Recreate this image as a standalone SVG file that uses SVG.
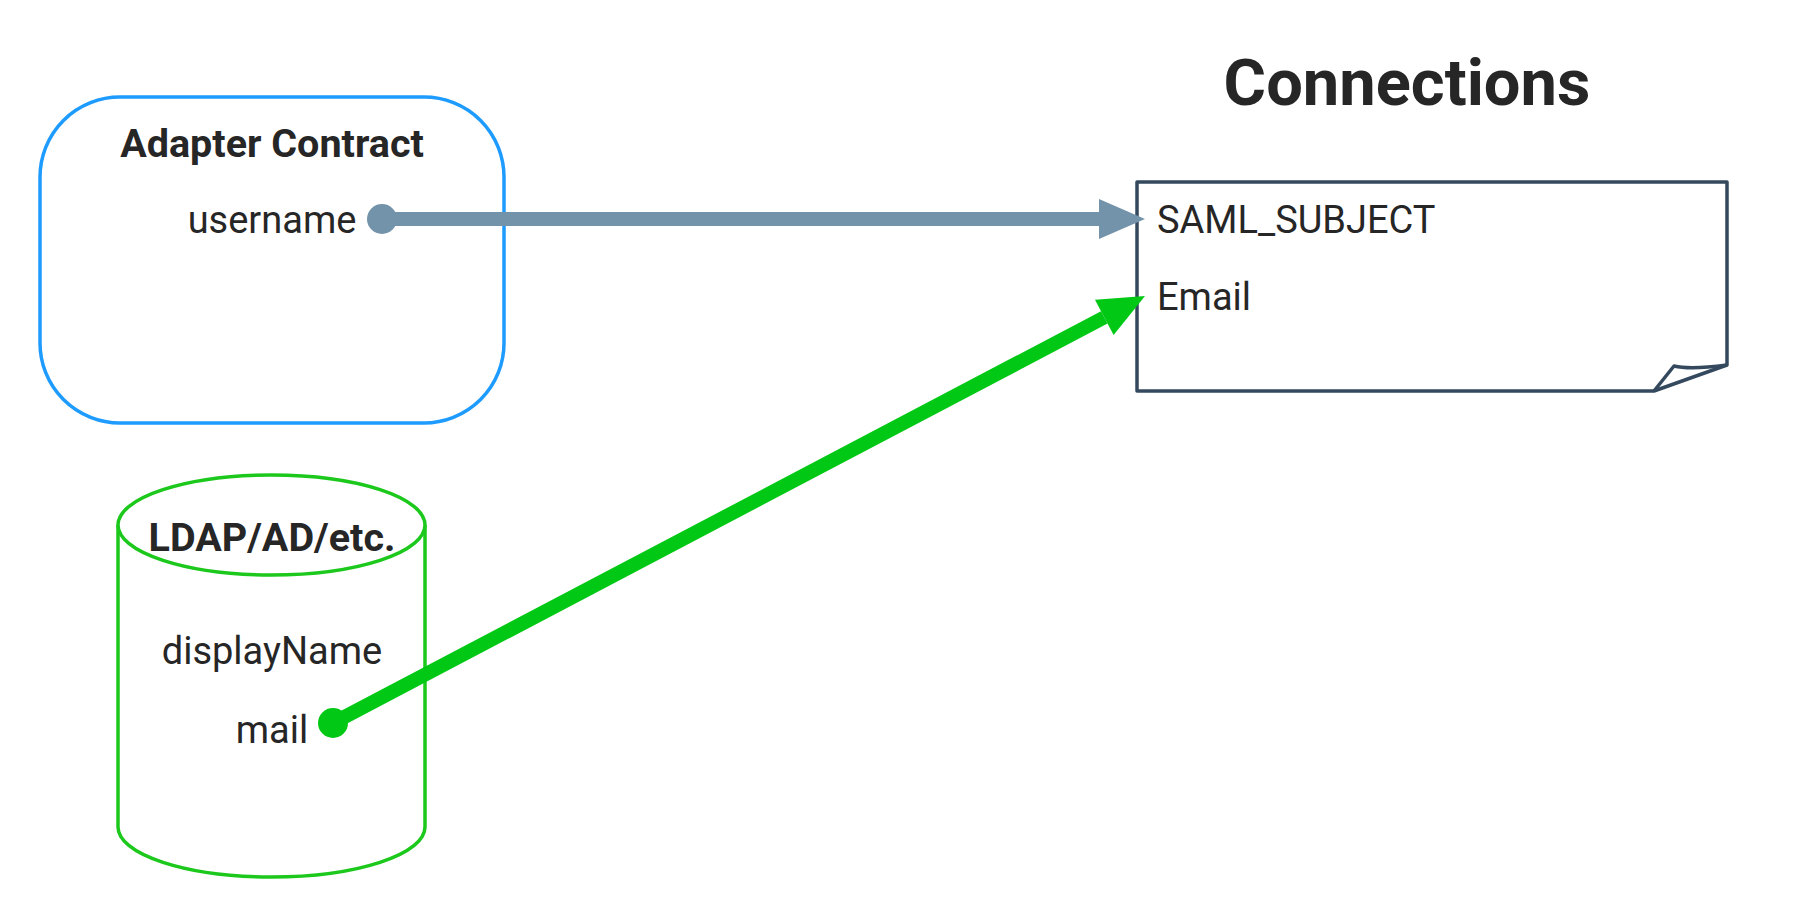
<svg xmlns="http://www.w3.org/2000/svg" width="1806" height="906" viewBox="0 0 1806 906">
<style>
.t{font-family:Roboto,"Liberation Sans",sans-serif;fill:#262626}
.r{font-size:38px}
.b{font-size:39.5px;font-weight:700}
.h{font-size:65px;font-weight:700}
</style>
<defs>
<marker id="ag" markerUnits="userSpaceOnUse" markerWidth="46" markerHeight="40" refX="0" refY="20" orient="auto" overflow="visible"><path d="M0,0 L46,20 L0,40 z" fill="#7393AA"/></marker>
<marker id="dg" markerUnits="userSpaceOnUse" markerWidth="30" markerHeight="30" refX="15" refY="15" overflow="visible"><circle cx="15" cy="15" r="15" fill="#7393AA"/></marker>
<marker id="an" markerUnits="userSpaceOnUse" markerWidth="46" markerHeight="40" refX="0" refY="20" orient="auto" overflow="visible"><path d="M0,0 L46,20 L0,40 z" fill="#00C814"/></marker>
<marker id="dn" markerUnits="userSpaceOnUse" markerWidth="30" markerHeight="30" refX="15" refY="15" overflow="visible"><circle cx="15" cy="15" r="15" fill="#00C814"/></marker>
</defs>
<rect width="1806" height="906" fill="#fff"/>
<text class="t h" x="1407" y="105" text-anchor="middle">Connections</text>
<g id="adapter">
<rect x="40" y="97" width="464" height="326" rx="80" ry="80" fill="#fff" stroke="#1E9BFF" stroke-width="3.5"/>
<text class="t b" x="272" y="157" text-anchor="middle">Adapter Contract</text>
<text class="t r" x="272" y="233" text-anchor="middle">username</text>
</g>
<g id="ldap">
<path d="M118,525 L118,827 A153.5,50 0 0 0 425,827 L425,525" fill="#fff" stroke="#1DC81D" stroke-width="3.5"/>
<ellipse cx="271.5" cy="525" rx="153.5" ry="50" fill="#fff" stroke="#1DC81D" stroke-width="3.5"/>
<text class="t b" x="272" y="551" text-anchor="middle">LDAP/AD/etc.</text>
<text class="t r" x="272" y="664" text-anchor="middle">displayName</text>
<text class="t r" x="272" y="743" text-anchor="middle">mail</text>
</g>
<g id="connections">
<path d="M1137,182 L1727,182 L1727,365 L1654,391 L1137,391 Z" fill="#fff" stroke="#34495E" stroke-width="3.5" stroke-linejoin="round"/>
<path d="M1654,391 L1674,366 Q1690,370 1727,365" fill="none" stroke="#34495E" stroke-width="3.5" stroke-linejoin="round"/>
<text class="t r" x="1157" y="233">SAML_SUBJECT</text>
<text class="t r" x="1157" y="310">Email</text>
</g>
<g id="connectors" fill="none" stroke-width="14">
<path d="M382,219 L1099,219" stroke="#7393AA" marker-start="url(#dg)" marker-end="url(#ag)"/>
<path d="M333,723 L1104.3,317.4" stroke="#00C814" marker-start="url(#dn)" marker-end="url(#an)"/>
</g>
</svg>
